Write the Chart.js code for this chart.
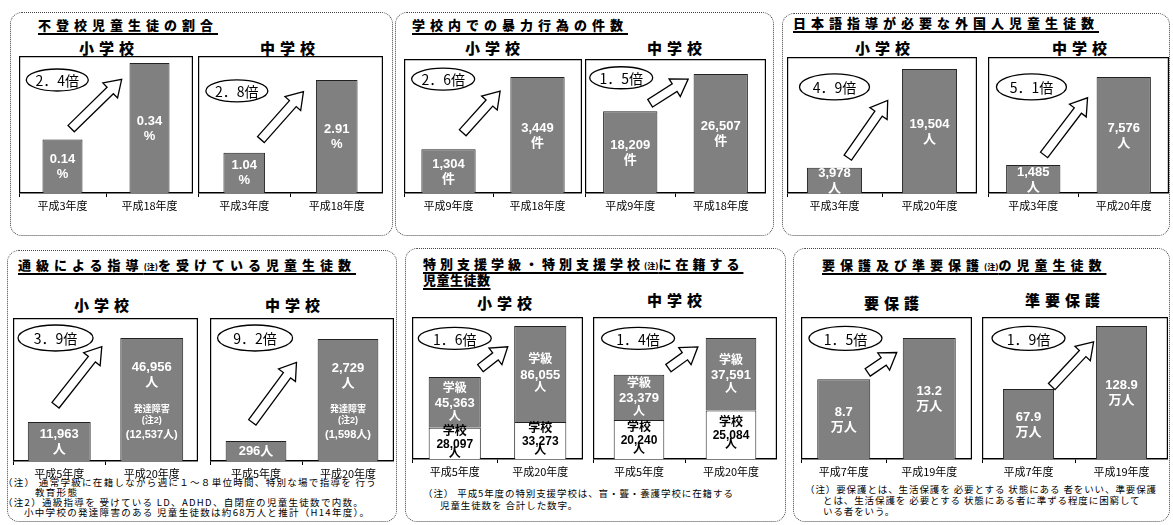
<!DOCTYPE html>
<html>
<head>
<meta charset="utf-8">
<script src="https://cdn.jsdelivr.net/npm/chart.js@4.4.1/dist/chart.umd.min.js"></script>
<style>
  body { margin:0; width:1173px; height:525px; position:relative; overflow:hidden; background:#fff;
         font-family:'Noto Sans CJK JP', sans-serif; color:#000; }
  .panel { position:absolute; border:1px dotted #444; border-radius:12px; box-sizing:border-box; }
  .t { position:absolute; white-space:nowrap; line-height:1; }
  .title { font-weight:900; font-size:13px; letter-spacing:5px; text-decoration:underline;
           text-decoration-thickness:1.5px; text-underline-offset:3px; }
  .title small { font-size:8px; letter-spacing:0; }
  .sub { font-weight:900; font-size:15px; letter-spacing:5px; transform:translateX(-50%); }
  .note { font-size:9.5px; letter-spacing:1.3px; }
  canvas { position:absolute; }
</style>
</head>
<body>

<div class="panel" style="left:10px;top:12px;width:383px;height:224px"></div>
<div class="panel" style="left:395px;top:12px;width:379px;height:224px"></div>
<div class="panel" style="left:782px;top:13px;width:388px;height:223px"></div>
<div class="panel" style="left:7px;top:250px;width:390px;height:272px"></div>
<div class="panel" style="left:405px;top:248px;width:381px;height:274px"></div>
<div class="panel" style="left:793px;top:248px;width:377px;height:274px"></div>

<div class="t title" style="left:38px;top:18px">不登校児童生徒の割合</div>
<div class="t title" style="left:412px;top:18px">学校内での暴力行為の件数</div>
<div class="t title" style="left:793px;top:16px">日本語指導が必要な外国人児童生徒数</div>
<div class="t title" style="left:18px;top:258px">通級による指導<small>(注)</small>を受けている児童生徒数</div>
<div class="t title" style="left:423px;top:257px;letter-spacing:4px">特別支援学級・特別支援学校<small>(注)</small>に在籍する</div>
<div class="t title" style="left:423px;top:273px;letter-spacing:0.5px">児童生徒数</div>
<div class="t title" style="left:822px;top:258px">要保護及び準要保護<small>(注)</small>の児童生徒数</div>

<div class="t sub" style="left:109px;top:40px">小学校</div>
<div class="t sub" style="left:290px;top:40px">中学校</div>
<div class="t sub" style="left:495px;top:40px">小学校</div>
<div class="t sub" style="left:677px;top:40px">中学校</div>
<div class="t sub" style="left:885px;top:40px">小学校</div>
<div class="t sub" style="left:1082px;top:40px">中学校</div>
<div class="t sub" style="left:104px;top:297px">小学校</div>
<div class="t sub" style="left:295px;top:297px">中学校</div>
<div class="t sub" style="left:507px;top:295px">小学校</div>
<div class="t sub" style="left:677px;top:292px">中学校</div>
<div class="t sub" style="left:894px;top:295px">要保護</div>
<div class="t sub" style="left:1065px;top:292px">準要保護</div>

<div class="t note" style="left:3px;top:478px">（注） 通常学級に在籍しながら週に１～８単位時間、特別な場で指導を 行う</div>
<div class="t note" style="left:35px;top:488px">教育形態</div>
<div class="t note" style="left:3px;top:498px">（注2）通級指導を 受けている LD、ADHD、自閉症の児童生徒数で内数。</div>
<div class="t note" style="left:24px;top:508px">小中学校の発達障害のある 児童生徒数は約68万人と推計（H14年度）。</div>
<div class="t note" style="left:423px;top:489px;letter-spacing:0.9px">（注） 平成5年度の特別支援学校は、盲・聾・養護学校に在籍する</div>
<div class="t note" style="left:440px;top:501px;letter-spacing:0.9px">児童生徒数を 合計した数字。</div>
<div class="t note" style="left:805px;top:485px;letter-spacing:0.9px">（注）要保護とは、生活保護を 必要とする 状態にある 者をいい、準要保護</div>
<div class="t note" style="left:823px;top:496px;letter-spacing:0.9px">とは、生活保護を 必要とする 状態にある者に準ずる程度に困窮して</div>
<div class="t note" style="left:823px;top:507px;letter-spacing:0.9px">いる者をいう。</div>

<script>
// 不登校児童生徒の割合 (%)
const futoukouLabels = ['平成3年度', '平成18年度'];
const futoukouShou = [0.14, 0.34];
const futoukouChuu = [1.04, 2.91];

// 学校内での暴力行為の件数
const bouryokuLabels = ['平成9年度', '平成18年度'];
const bouryokuShou = [1304, 3449];
const bouryokuChuu = [18209, 26507];

// 日本語指導が必要な外国人児童生徒数
const nihongoLabels = ['平成3年度', '平成20年度'];
const nihongoShou = [3978, 19504];
const nihongoChuu = [1485, 7576];

// 通級による指導を受けている児童生徒数 (発達障害は内数)
const tsuukyuuLabels = ['平成5年度', '平成20年度'];
const tsuukyuuShou = [11963, 46956];
const tsuukyuuChuu = [296, 2729];
const hattatsuShou = 12537;
const hattatsuChuu = 1598;

// 特別支援学級・特別支援学校に在籍する児童生徒数
const tokubetsuLabels = ['平成5年度', '平成20年度'];
const shouGakkou = [28097, 33273];
const shouGakkyuu = [45363, 86055];
const chuuGakkou = [20240, 25084];
const chuuGakkyuu = [23379, 37591];

// 要保護・準要保護 (万人)
const hogoLabels = ['平成7年度', '平成19年度'];
const youHogo = [8.7, 13.2];
const junYouHogo = [67.9, 128.9];

const ratios = ['2．4倍', '2．8倍', '2．6倍', '1．5倍', '4．9倍', '5．1倍',
                '3．9倍', '9．2倍', '1．6倍', '1．4倍', '1．5倍', '1．9倍'];

const FONT = "'Noto Sans CJK JP', sans-serif";
const NUM_FONT = "'Liberation Sans', 'Noto Sans CJK JP', sans-serif";
const GRAY = '#808080';

const fmt = v => v.toLocaleString('en-US');
const two = (a, b) => [[a, 13, -7], [b, 13, 8]];

// box around the plot, hollow arrow and the ratio oval
const decoPlugin = {
  id: 'deco',
  afterDatasetsDraw(chart, args, opts) {
    const { ctx, chartArea: a } = chart;
    ctx.save();
    ctx.strokeStyle = '#000';
    ctx.lineWidth = 1.2;
    ctx.beginPath();
    ctx.moveTo(a.left + 0.6, a.bottom);
    ctx.lineTo(a.left + 0.6, a.top + 0.6);
    ctx.lineTo(a.right - 0.6, a.top + 0.6);
    ctx.lineTo(a.right - 0.6, a.bottom);
    ctx.stroke();

    if (opts.arrow) {
      const [fx0, fy0, fx1, fy1] = opts.arrow;
      const x0 = a.left + fx0 * a.width, y0 = a.top + fy0 * a.height;
      const x1 = a.left + fx1 * a.width, y1 = a.top + fy1 * a.height;
      const len = Math.hypot(x1 - x0, y1 - y0);
      const ux = (x1 - x0) / len, uy = (y1 - y0) / len;
      const nx = -uy, ny = ux;
      const sw = 4.5, hw = 10.5, hl = Math.min(16, len * 0.45);
      const bx = x1 - ux * hl, by = y1 - uy * hl;
      const pts = [
        [x0 + nx * sw, y0 + ny * sw], [bx + nx * sw, by + ny * sw], [bx + nx * hw, by + ny * hw],
        [x1, y1],
        [bx - nx * hw, by - ny * hw], [bx - nx * sw, by - ny * sw], [x0 - nx * sw, y0 - ny * sw]
      ];
      ctx.beginPath();
      pts.forEach((p, i) => i ? ctx.lineTo(p[0], p[1]) : ctx.moveTo(p[0], p[1]));
      ctx.closePath();
      ctx.fillStyle = '#fff';
      ctx.fill();
      ctx.lineWidth = 1.3;
      ctx.stroke();
    }

    if (opts.oval) {
      const [fx, fy, w, h] = opts.oval;
      const cx = a.left + fx * a.width, cy = a.top + fy * a.height;
      ctx.beginPath();
      ctx.ellipse(cx, cy, w / 2, h / 2, 0, 0, Math.PI * 2);
      ctx.fillStyle = '#fff';
      ctx.fill();
      ctx.lineWidth = 1.3;
      ctx.stroke();
      ctx.fillStyle = '#000';
      ctx.font = `14px ${FONT}`;
      ctx.textAlign = 'center';
      ctx.textBaseline = 'middle';
      ctx.fillText(opts.ratio, cx, cy + 1);
    }
    ctx.restore();
  }
};

// value text inside the bars
const textPlugin = {
  id: 'barText',
  afterDatasetsDraw(chart) {
    const ctx = chart.ctx;
    chart.data.datasets.forEach((ds, di) => {
      if (!ds.lines) return;
      chart.getDatasetMeta(di).data.forEach((bar, i) => {
        const cy = (bar.y + bar.base) / 2;
        ctx.save();
        ctx.fillStyle = ds.textColor || '#fff';
        ctx.textAlign = 'center';
        ctx.textBaseline = 'middle';
        ds.lines(ds.data[i], i).forEach(([t, size, dy]) => {
          ctx.font = `bold ${size}px ${NUM_FONT}`;
          ctx.fillText(t, bar.x, cy + dy);
        });
        ctx.restore();
      });
    });
  }
};

function barChart(box, labels, datasets, o) {
  const cv = document.createElement('canvas');
  cv.width = box[2];
  cv.height = box[3] + 24;
  cv.style.left = box[0] + 'px';
  cv.style.top = box[1] + 'px';
  document.body.appendChild(cv);

  datasets.forEach(d => {
    d.backgroundColor = d.backgroundColor || GRAY;
    d.borderColor = '#222';
    d.borderWidth = 1;
    if (o.min) d.base = o.min;
  });

  return new Chart(cv, {
    type: 'bar',
    data: { labels, datasets },
    options: {
      responsive: false,
      animation: false,
      layout: { padding: 0 },
      datasets: { bar: { barPercentage: o.bp, categoryPercentage: 1 } },
      scales: {
        x: {
          stacked: !!o.stacked,
          grid: { display: true, drawOnChartArea: false, offset: true, tickLength: 4, color: '#000' },
          border: { color: '#000', width: 1.5 },
          ticks: { color: '#000', font: { family: FONT, size: 11 }, padding: 2 },
          afterFit(s) { s.height = 24; }
        },
        y: { display: false, stacked: !!o.stacked, min: o.min || 0, max: o.max }
      },
      plugins: {
        legend: { display: false },
        tooltip: { enabled: false },
        deco: { ratio: o.ratio, oval: o.oval, arrow: o.arrow }
      }
    },
    plugins: [decoPlugin, textPlugin]
  });
}

const pct = v => two(v.toFixed(2), '%');
const ken = v => two(fmt(v), '件');
const nin = v => two(fmt(v), '人');
const man = v => two(String(v), '万人');

// 上段
barChart([19, 56, 174, 137], futoukouLabels, [{ data: futoukouShou, lines: pct }],
  { bp: 0.46, max: 0.358, ratio: ratios[0], oval: [0.22, 0.175, 62, 22], arrow: [0.30, 0.53, 0.59, 0.17] });
barChart([198, 56, 185, 137], futoukouLabels, [{ data: futoukouChuu, lines: pct }],
  { bp: 0.45, max: 3.53, ratio: ratios[1], oval: [0.21, 0.255, 62, 22], arrow: [0.34, 0.61, 0.57, 0.26] });
barChart([404, 59, 178, 134], bouryokuLabels, [{ data: bouryokuShou, lines: ken }],
  { bp: 0.61, max: 3984, ratio: ratios[2], oval: [0.22, 0.15, 63, 22], arrow: [0.33, 0.55, 0.54, 0.24] });
barChart([585, 59, 181, 134], bouryokuLabels, [{ data: bouryokuChuu, lines: ken }],
  { bp: 0.6, max: 29850, ratio: ratios[3], oval: [0.20, 0.14, 63, 22], arrow: [0.36, 0.33, 0.57, 0.15] });
barChart([787, 57, 190, 136], nihongoLabels, [{ data: nihongoShou, lines: nin }],
  { bp: 0.58, max: 21400, ratio: ratios[4], oval: [0.25, 0.22, 70, 26], arrow: [0.32, 0.74, 0.53, 0.32] });
barChart([988, 57, 181, 136], nihongoLabels, [{ data: nihongoChuu, lines: nin }],
  { bp: 0.6, min: -453, max: 8960, ratio: ratios[5], oval: [0.24, 0.22, 70, 26], arrow: [0.31, 0.72, 0.55, 0.30] });

// 下段
const tsuukyuuText = inner => (v, i) => i === 0
  ? (v < 1000 ? [[fmt(v) + '人', 13, 0]] : two(fmt(v), '人'))
  : [[fmt(v), 13, -32], ['人', 13, -17], ['発達障害', 9, 10], ['(注2)', 9, 21], ['(' + fmt(inner) + '人)', 11, 35]];

barChart([13, 318, 185, 143], tsuukyuuLabels, [{ data: tsuukyuuShou, lines: tsuukyuuText(hattatsuShou) }],
  { bp: 0.68, min: -4284, max: 55288, ratio: ratios[6], oval: [0.23, 0.14, 75, 26], arrow: [0.23, 0.61, 0.48, 0.20] });
barChart([210, 318, 184, 143], tsuukyuuLabels, [{ data: tsuukyuuChuu, lines: tsuukyuuText(hattatsuChuu) }],
  { bp: 0.66, min: -181, max: 3230, ratio: ratios[7], oval: [0.245, 0.14, 75, 26], arrow: [0.23, 0.73, 0.47, 0.31] });

const gakkouText = v => [['学校', 12, -12], [fmt(v), 12, 1], ['人', 12, 10]];
const gakkyuuText = v => [['学級', 12, -14], [fmt(v), 13, 1], ['人', 12, 14]];

barChart([412, 317, 171, 142], tokubetsuLabels, [
    { data: shouGakkou, backgroundColor: '#fff', textColor: '#000', lines: gakkouText },
    { data: shouGakkyuu, lines: gakkyuuText }
  ],
  { bp: 0.61, stacked: true, max: 127400, ratio: ratios[8], oval: [0.25, 0.15, 73, 22], arrow: [0.40, 0.36, 0.56, 0.21] });
barChart([593, 317, 184, 142], tokubetsuLabels, [
    { data: chuuGakkou, backgroundColor: '#fff', textColor: '#000', lines: gakkouText },
    { data: chuuGakkyuu, lines: gakkyuuText }
  ],
  { bp: 0.55, stacked: true, max: 73550, ratio: ratios[9], oval: [0.245, 0.15, 73, 22], arrow: [0.41, 0.36, 0.57, 0.21] });

barChart([801, 317, 171, 142], hogoLabels, [{ data: youHogo, lines: man }],
  { bp: 0.62, max: 15.5, ratio: ratios[10], oval: [0.26, 0.15, 73, 24], arrow: [0.39, 0.39, 0.56, 0.25] });
barChart([982, 317, 186, 142], hogoLabels, [{ data: junYouHogo, lines: man }],
  { bp: 0.55, max: 137.6, ratio: ratios[11], oval: [0.25, 0.15, 73, 24], arrow: [0.375, 0.49, 0.60, 0.175] });
</script>
</body>
</html>
